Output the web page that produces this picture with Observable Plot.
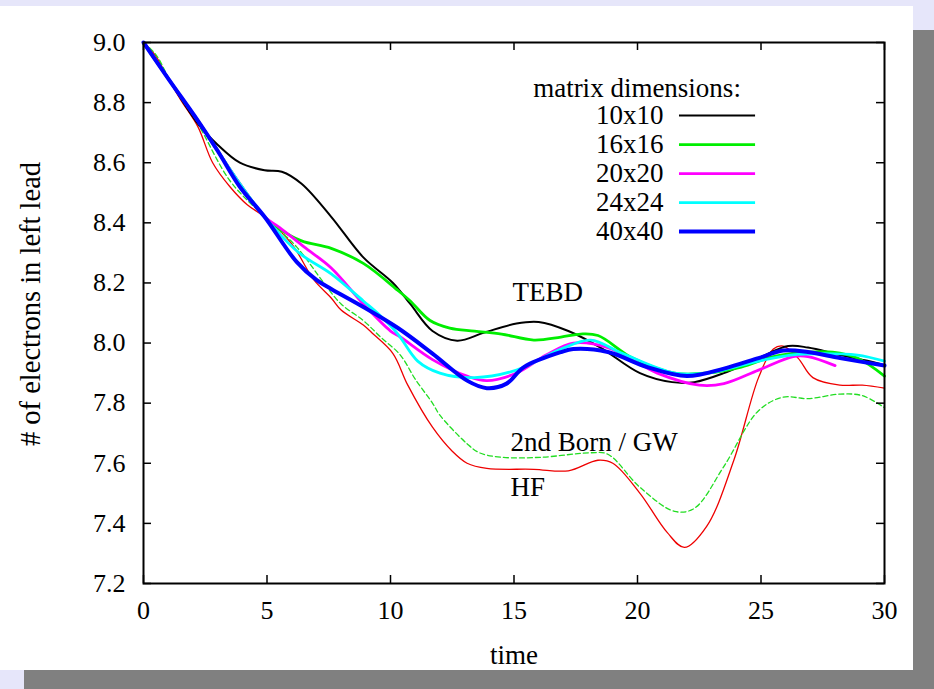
<!DOCTYPE html>
<html><head><meta charset="utf-8">
<script src="https://cdn.jsdelivr.net/npm/d3@7"></script>
<script src="https://cdn.jsdelivr.net/npm/@observablehq/plot@0.6"></script>
<style>
html,body{margin:0;padding:0;background:#e6e6fa;width:934px;height:689px;overflow:hidden;position:relative;}
#shadow{position:absolute;left:24px;top:30px;width:920px;height:670px;background:#808080;}
#panel{position:absolute;left:0;top:6px;width:913px;height:664px;background:#fff;}
#chart{position:absolute;left:0;top:6px;}
#chart svg text{font-family:"Liberation Serif",serif !important;}
#chart svg g[aria-label="x-axis tick label"], #chart svg g[aria-label="y-axis tick label"]{font-size:26px !important;}
#chart svg g[aria-label="x-axis tick label"] text, #chart svg g[aria-label="y-axis tick label"] text{font-size:26px !important;}
</style></head><body>
<div id="shadow"></div><div id="panel"></div><div id="chart"></div>
<script>
// ---- data (time, # of electrons in left lead) ----
const t10 = [0,1,2.2,3,3.9,4.9,5.6,6.4,7.6,8.9,10.1,10.8,11.7,12.7,13.8,15.1,16,17.2,18.5,20.1,21.4,22.3,23.5,24.9,26.1,26.9,28.2,29.6,30];
const n10 = [9.0,8.88,8.73,8.66,8.60,8.575,8.57,8.53,8.42,8.285,8.2,8.13,8.04,8.008,8.035,8.065,8.07,8.04,7.985,7.9,7.87,7.87,7.90,7.95,7.99,7.985,7.96,7.935,7.925];

const t16 = [0,1,2.2,3,3.9,4.9,5.5,6.4,7.6,8.9,10.3,10.8,11.6,12.4,13.4,14.5,15.8,16.9,17.7,18.4,19.8,21.5,22.8,24.2,25.5,26.9,27.9,28.9,30];
const n16 = [9.0,8.88,8.74,8.64,8.53,8.42,8.38,8.34,8.315,8.265,8.175,8.14,8.075,8.05,8.04,8.03,8.01,8.02,8.03,8.025,7.95,7.90,7.90,7.92,7.955,7.97,7.97,7.95,7.89];

const t20 = [0,1,2.2,3,3.9,4.9,5.5,6.5,7.6,8.9,10,10.4,11.7,13.1,13.9,15.1,16.3,17.4,18.8,20.8,22.5,23.5,24.9,26.3,26.9,28];
const n20 = [9.0,8.88,8.74,8.64,8.53,8.42,8.385,8.32,8.25,8.13,8.04,8.02,7.945,7.89,7.875,7.9,7.96,8.0,7.985,7.90,7.86,7.865,7.91,7.955,7.955,7.925];

const t24 = [0,1,2.2,3,3.9,4.9,6.3,7.6,8.9,9.6,10.3,11.1,12,13.4,15.1,16.9,18.1,19.4,21.5,22.8,24.9,26.2,27.5,28.9,30];
const n24 = [9.0,8.88,8.74,8.64,8.53,8.42,8.30,8.23,8.14,8.09,8.03,7.94,7.90,7.885,7.91,7.98,8.01,7.965,7.90,7.90,7.94,7.96,7.965,7.96,7.94];

const t40 = [0,1,2.2,3,3.9,4.9,6.2,7,7.6,8.9,10.3,11.7,13.1,13.9,14.7,15.4,16.9,17.4,18.8,20.4,22,23.5,24.9,25.9,26.9,28.2,30];
const n40 = [9.0,8.88,8.74,8.64,8.52,8.42,8.27,8.21,8.18,8.12,8.05,7.965,7.875,7.85,7.865,7.92,7.97,7.98,7.97,7.92,7.89,7.915,7.95,7.975,7.97,7.95,7.925];

const tHF = [0,0.5,1,1.5,2.2,2.8,3.5,4.2,4.9,6,6.9,7.6,8,8.9,9.3,10.1,10.7,11.7,12.5,13.1,13.9,15.8,17.2,18.4,19,20.1,21.2,21.9,22.8,23.9,24.9,25.5,25.9,26.5,27.1,28.2,29.1,30];
const nHF = [9.0,8.955,8.88,8.81,8.72,8.6,8.52,8.46,8.42,8.33,8.21,8.15,8.11,8.06,8.03,7.965,7.86,7.72,7.64,7.60,7.583,7.58,7.575,7.61,7.60,7.50,7.37,7.32,7.39,7.61,7.885,7.98,7.99,7.95,7.885,7.86,7.86,7.85];

const tGW = [0,0.5,1,1.5,2.2,3.5,4.9,6.2,7.3,8,8.9,9.6,10.4,11,11.7,12,13.1,13.6,14.5,16.1,18.1,18.8,20.1,21.5,22.3,23.5,24.9,25.9,26.9,28.2,29.1,30];
const nGW = [9.0,8.96,8.885,8.815,8.73,8.54,8.42,8.32,8.2,8.13,8.075,8.02,7.96,7.88,7.80,7.76,7.665,7.635,7.62,7.62,7.635,7.63,7.52,7.44,7.45,7.59,7.775,7.82,7.815,7.83,7.825,7.785];

const legendNames = ["10x10","16x16","20x20","24x24","40x40"];
const legendColors = ["#000000","#00ee00","#ff00ff","#00ffff","#0000ff"];
const legendWidths = [2,2.8,2.8,2.8,4];
const legendTitle = "matrix dimensions:";

const annLabels = ["TEBD","2nd Born / GW","HF"];
const annT = [14.94,14.86,14.86];
const annN = [8.168,7.669,7.52];

const xTicks = [0,5,10,15,20,25,30];
const yTicks = [7.2,7.4,7.6,7.8,8.0,8.2,8.4,8.6,8.8,9.0];
const xLabel = "time";
const yLabel = "# of electrons in left lead";

// ---- build ----
const rows = (ts, vs) => ts.map((t, i) => ({t, n: vs[i]}));
const series = [
  {d: rows(t10, n10), c: legendColors[0], w: legendWidths[0]},
  {d: rows(t16, n16), c: legendColors[1], w: legendWidths[1]},
  {d: rows(t20, n20), c: legendColors[2], w: legendWidths[2]},
  {d: rows(t24, n24), c: legendColors[3], w: legendWidths[3]},
  {d: rows(t40, n40), c: legendColors[4], w: legendWidths[4]}
];

const legX1 = 21.7, legX2 = 24.78, legTextX = 21.05, legTop = 8.757, legStep = 0.0965;

const marks = [
  Plot.line(rows(tHF, nHF), {x: "t", y: "n", stroke: "#ee0000", strokeWidth: 1.3, curve: "catmull-rom"}),
  Plot.line(rows(tGW, nGW), {x: "t", y: "n", stroke: "#22dd22", strokeWidth: 1.3, strokeDasharray: "5,3", curve: "catmull-rom"}),
  ...series.map(s => Plot.line(s.d, {x: "t", y: "n", stroke: s.c, strokeWidth: s.w, curve: "catmull-rom"})),
  // inward ticks
  Plot.ruleX(xTicks, {x: d => d, insetTop: 533, stroke: "black", strokeWidth: 1.5}),
  Plot.ruleX(xTicks, {x: d => d, insetBottom: 533, stroke: "black", strokeWidth: 1.5}),
  Plot.ruleY(yTicks, {y: d => d, insetRight: 733, stroke: "black", strokeWidth: 1.5}),
  Plot.ruleY(yTicks, {y: d => d, insetLeft: 733, stroke: "black", strokeWidth: 1.5}),
  Plot.frame({stroke: "black", strokeWidth: 2}),
  // legend
  Plot.text([legendTitle], {text: d => d, x: () => 19.98, y: () => 8.847, fontSize: 27, fill: "black"}),
  Plot.text(legendNames, {text: d => d, x: () => legTextX, y: (d, i) => legTop - i * legStep, textAnchor: "end", fontSize: 27, fill: "black"}),
  ...legendNames.map((name, i) => Plot.ruleY([name], {y: () => legTop - i * legStep, x1: () => legX1, x2: () => legX2, stroke: legendColors[i], strokeWidth: legendWidths[i]})),
  // annotations
  Plot.text(annLabels, {text: d => d, x: (d, i) => annT[i], y: (d, i) => annN[i], textAnchor: "start", fontSize: 27, fill: "black"}),
  // axis labels
  Plot.text([xLabel], {text: d => d, frameAnchor: "bottom", dy: 80, fontSize: 27, fill: "black"}),
  Plot.text([yLabel], {text: d => d, frameAnchor: "left", textAnchor: "middle", rotate: -90, dx: -113, dy: -9, fontSize: 28.5, fill: "black"})
];

const chart = Plot.plot({
  width: 913,
  height: 664,
  marginLeft: 143,
  marginRight: 29,
  marginTop: 36,
  marginBottom: 87,
  style: {fontFamily: "Liberation Serif", fontSize: "26px", background: "transparent", color: "black", overflow: "visible"},
  x: {domain: [0, 30], ticks: xTicks, tickSize: 0, tickPadding: 17, label: null},
  y: {domain: [7.2, 9.0], ticks: yTicks, tickSize: 0, tickPadding: 18, tickFormat: d => d.toFixed(1), label: null},
  marks
});
document.getElementById("chart").appendChild(chart);
</script>
</body></html>
